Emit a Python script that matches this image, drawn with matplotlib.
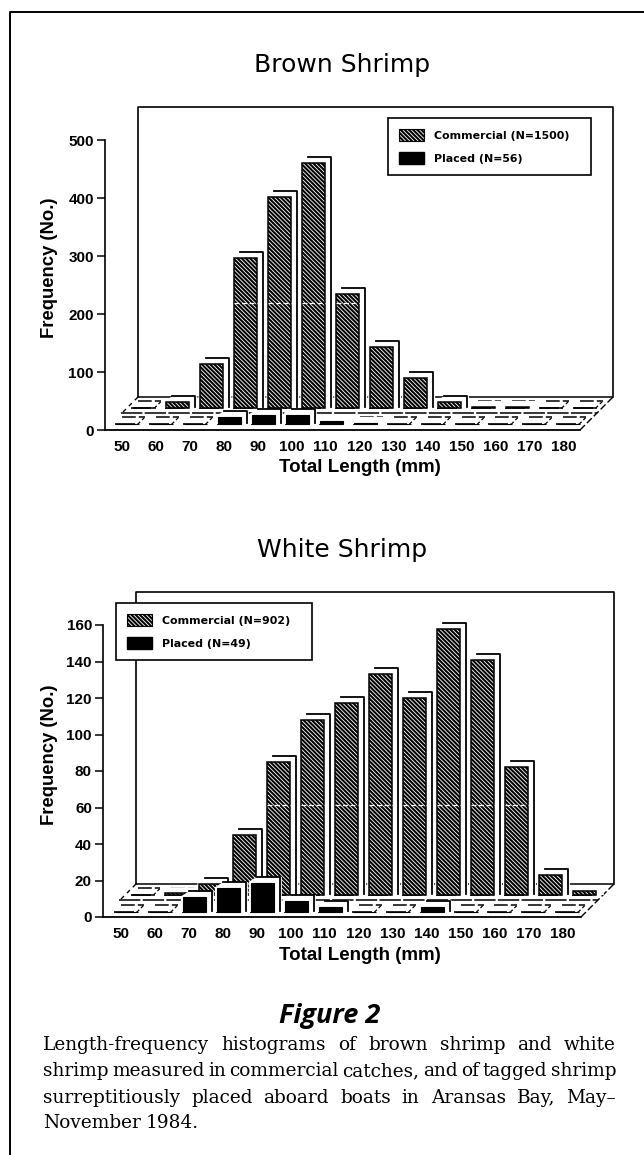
#!/usr/bin/env python
"""Length-frequency histograms of brown and white shrimp (pseudo-3D bars, two rows)."""
import matplotlib
matplotlib.use("Agg")
import matplotlib.pyplot as plt
from matplotlib.patches import Patch, Polygon

W, H = 644, 1155
plt.rcParams["font.family"] = ["Liberation Sans", "DejaVu Sans"]
plt.rcParams["hatch.linewidth"] = 1.5

BINS = [50, 60, 70, 80, 90, 100, 110, 120, 130, 140, 150, 160, 170, 180]
BROWN_COMMERCIAL = [0, 10, 76, 259, 364, 422, 197, 105, 52, 10, 2, 2, 0, 0]
BROWN_PLACED = [0, 0, 0, 12, 16, 16, 6, 2, 0, 0, 0, 0, 0, 0]
WHITE_COMMERCIAL = [0, 1, 6, 33, 73, 96, 105, 121, 108, 146, 129, 70, 11, 2]
WHITE_PLACED = [0, 0, 8, 13, 16, 6, 3, 0, 0, 3, 0, 0, 0, 0]
BROWN_TICKS = [0, 100, 200, 300, 400, 500]
WHITE_TICKS = [0, 20, 40, 60, 80, 100, 120, 140, 160]

BAR_W = 23       # px
DEPTH = 33       # px, floor depth
FRONT_DX = 5.5   # bar centre vs. label
REAR_DX = 22
CAPTION = [
    "Length-frequency histograms of brown shrimp and white",
    "shrimp measured in commercial catches, and of tagged shrimp",
    "surreptitiously placed aboard boats in Aransas Bay, May–",
    "November 1984.",
]

fig = plt.figure(figsize=(W / 100, H / 100), dpi=100, facecolor="white")


def fx(x):
    return x / W


def fy(y):
    return 1 - y / H


def draw_panel(left, right, top, base, x50, ymax, ymax_px, commercial, placed, ticks,
               front_base, rear_base, scan_y, leg_box, leg_labels, title, title_y,
               xlab_y, ylab_y):
    ppm = 3.395
    pp_y = (base - ymax_px) / ymax
    ax = fig.add_axes([fx(left), fy(base), fx(right - left), (base - top) / H])
    ax.patch.set_alpha(0)
    ax.set_xlim(50 + (left - x50) / ppm, 50 + (right - x50) / ppm)
    ax.set_ylim(0, (base - top) / pp_y)
    dx = lambda p: p / ppm
    dy = lambda p: p / pp_y
    x_l, x_r = ax.get_xlim()
    y_t = ax.get_ylim()[1]

    # back wall and floor edges
    wall_y = dy(DEPTH)
    ax.plot([x_l + dx(DEPTH), x_l + dx(DEPTH), x_r, x_r], [wall_y, y_t, y_t, wall_y],
            color="k", lw=1.2, zorder=1, clip_on=False)
    ax.plot([x_l + dx(DEPTH), x_r], [wall_y, wall_y], color="k", lw=1.1, zorder=1)
    ax.plot([x_l + dx(16), x_r - dx(16)], [dy(17), dy(17)], color="k", lw=1.1,
            ls=(0, (14, 1.5)), zorder=1)
    ax.plot([x_r - dx(DEPTH), x_r], [0, wall_y], color="k", lw=1, ls=(0, (5, 2)), zorder=1)
    ax.plot([x_l + dx(18), x_l + dx(DEPTH)], [dy(18), wall_y], color="k", lw=1,
            ls=(0, (3, 3)), zorder=1)

    # floor cells, rear row then front row (the left side never shows in print)
    for row_dx, row_base in ((REAR_DX, rear_base), (FRONT_DX, front_base)):
        for b in BINS:
            x0 = b + dx(row_dx - BAR_W / 2 - 1)
            x1 = x0 + dx(BAR_W)
            ax.plot([x0, x1], [dy(row_base)] * 2, color="k", lw=1.2, ls=(0, (12, 1.5)), zorder=1.5)
            ax.plot([x0 + dx(7), x1 + dx(7)], [dy(row_base + 7)] * 2, color="k", lw=1.1,
                    ls=(0, (9, 2)), zorder=1.5)
            ax.plot([x1, x1 + dx(7)], [dy(row_base), dy(row_base + 7)], color="k", lw=0.9,
                    ls=(0, (2.5, 2)), zorder=1.5)

    def bars(vals, row_dx, row_base, z, **kw):
        xs = [b + dx(row_dx) for b in BINS]
        bot = dy(row_base)
        for x, v in zip(xs, vals):
            if v <= 0:
                continue
            x0, x1 = x - dx(BAR_W / 2), x + dx(BAR_W / 2)
            t = bot + v
            d_x, d_y = dx(6), dy(6)
            hi = max(t + d_y, bot + d_y)
            # white halo: hides the wall and floor behind the bar
            ax.add_patch(Polygon([(x0 - dx(2), bot), (x0 - dx(2), t + dy(1)), (x0 + d_x, hi),
                                  (x1 + d_x + dx(2), hi), (x1 + d_x + dx(2), bot)],
                                 closed=True, fc="white", ec="none", zorder=z))
            if v * pp_y > 4:
                ax.plot([x0 + d_x, x1 + d_x, x1 + d_x], [hi, hi, bot + dy(1)],
                        color="k", lw=1.3, zorder=z + 0.1, solid_joinstyle="round")
        ax.bar(xs, vals, width=dx(BAR_W), bottom=bot, zorder=z + 0.2, **kw)

    bars(commercial, REAR_DX, rear_base, 2, fc="white", ec="k", lw=1.1, hatch="\\\\\\\\\\\\\\\\")
    bars(placed, FRONT_DX, front_base, 3, fc="k", ec="k", lw=0.8)

    # scan streak across the tall bars
    for b, v in zip(BINS, commercial):
        if dy(rear_base) + v > dy(base - scan_y):
            x = b + dx(REAR_DX)
            ax.plot([x - dx(BAR_W / 2), x + dx(BAR_W / 2)], [dy(base - scan_y)] * 2,
                    color="white", lw=0.9, ls=(0, (4, 2)), zorder=2.5)

    for s in ("top", "right"):
        ax.spines[s].set_visible(False)
    ax.spines["left"].set_bounds(0, ymax)
    ax.spines["left"].set_linewidth(1.2)
    ax.spines["bottom"].set_bounds(x_l, x_r - dx(DEPTH))
    ax.spines["bottom"].set_linewidth(1.3)
    ax.set_yticks(ticks)
    ax.set_xticks(BINS)
    ax.tick_params(axis="y", length=5.5, width=1.1, pad=2.5, labelsize=11)
    ax.tick_params(axis="x", length=0, pad=7, labelsize=11)
    for lab in ax.get_xticklabels() + ax.get_yticklabels():
        lab.set_fontweight("bold")

    fig.text(fx(342), fy(title_y), title, fontsize=18, family="DejaVu Sans",
             ha="center", va="center")
    fig.text(fx(359.5), fy(xlab_y), "Total Length (mm)", fontsize=13.5, fontweight="bold",
             ha="center", va="center")
    fig.text(fx(50), fy(ylab_y), "Frequency (No.)", fontsize=13.3, fontweight="bold",
             rotation=90, ha="center", va="center")

    handles = [Patch(fc="white", ec="k", hatch="\\\\\\\\\\\\\\\\", lw=0.8),
               Patch(fc="k", ec="k")]
    leg = ax.legend(handles, leg_labels, loc="upper left", mode="expand",
                    bbox_to_anchor=(fx(leg_box[0]), fy(leg_box[1]), fx(leg_box[2]), 0),
                    bbox_transform=fig.transFigure, borderaxespad=0, fancybox=False,
                    framealpha=1, edgecolor="k",
                    prop={"family": "DejaVu Sans", "weight": "bold", "size": 7.9},
                    handlelength=2.25, handleheight=1.3, handletextpad=0.9, labelspacing=1.0,
                    borderpad=1.0)
    leg.get_frame().set_linewidth(1.2)
    leg.set_zorder(6)


draw_panel(105, 613, 107, 430, 122, 500, 140, BROWN_COMMERCIAL, BROWN_PLACED, BROWN_TICKS,
           6, 22, 303, (388, 118, 203), ["Commercial (N=1500)", "Placed (N=56)"], "Brown Shrimp", 65,
           468, 268)
draw_panel(103, 614, 592, 917, 121, 160, 625, WHITE_COMMERCIAL, WHITE_PLACED, WHITE_TICKS,
           5, 22, 805, (116, 603, 196), ["Commercial (N=902)", "Placed (N=49)"], "White Shrimp", 550,
           955, 755)

# page rule
fig.add_artist(plt.Line2D([fx(10), fx(10), 1], [0, fy(12), fy(12)], color="k", lw=1.4))

fig.text(fx(330), fy(1023), "Figure 2", fontsize=19.5, fontweight="bold", fontstyle="italic",
         family=["Open Sans", "DejaVu Sans"], ha="center", va="baseline")

# justified caption
renderer = fig.canvas.get_renderer()
baselines = [1050, 1076, 1103, 1128]
cap_left, cap_right = 43, 616
for i, (line, yb) in enumerate(zip(CAPTION, baselines)):
    words = line.split(" ")
    arts = [fig.text(fx(cap_left), fy(yb), w, fontsize=13.3, family="DejaVu Serif",
                     ha="left", va="baseline", color="k") for w in words]
    widths = [a.get_window_extent(renderer).width for a in arts]
    if i < len(CAPTION) - 1:
        gap = (cap_right - cap_left - sum(widths)) / (len(words) - 1)
    else:
        gap = 5
    x = cap_left
    for a, w in zip(arts, widths):
        a.set_x(fx(x))
        x += w + gap

fig.savefig("out.png", dpi=100)
